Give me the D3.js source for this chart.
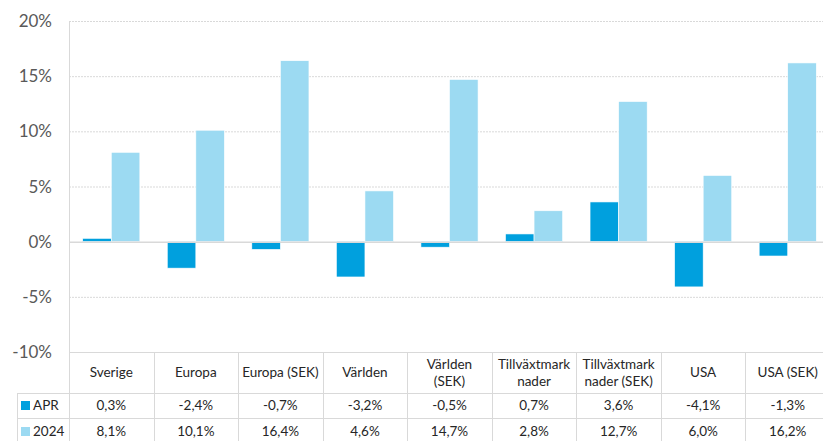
<!DOCTYPE html>
<html>
<head>
<meta charset="utf-8">
<script src="https://cdn.jsdelivr.net/npm/d3@7"></script>
<style>
  body { margin: 0; background: #fff; }
  svg { display: block; font-family: Lato, "Open Sans", sans-serif; }
</style>
</head>
<body>
<div id="chart"></div>
<script>
// categories (header lines) and series
var categories = [
  ["Sverige"], ["Europa"], ["Europa (SEK)"], ["Världen"], ["Världen", "(SEK)"],
  ["Tillväxtmark", "nader"], ["Tillväxtmark", "nader (SEK)"], ["USA"], ["USA (SEK)"]
];
var seriesNames = ["APR", "2024"];
var aprValues = [0.3, -2.4, -0.7, -3.2, -0.5, 0.7, 3.6, -4.1, -1.3];
var ytdValues = [8.1, 10.1, 16.4, 4.6, 14.7, 2.8, 12.7, 6.0, 16.2];
var yTicks = [-10, -5, 0, 5, 10, 15, 20];

var colors = ["#00a0de", "#9cdaf2"];
var W = 823, H = 441;
var plotLeft = 69, plotRight = 830, plotTop = 21, plotBottom = 352;
var fs = '13.5px';

var svg = d3.select('#chart').append('svg')
    .attr('width', W).attr('height', H);

var x = d3.scaleBand()
    .domain(d3.range(categories.length))
    .range([plotLeft, plotRight]);

var inner = d3.scaleBand()
    .domain([0, 1])
    .range([0, x.bandwidth()])
    .paddingInner(0)
    .paddingOuter(0.48);

var y = d3.scaleLinear().domain([-10, 20]).range([plotBottom, plotTop]);

// gridlines
svg.append('g').selectAll('line')
    .data(yTicks.filter(function (d) { return d !== 0 && d !== -10; }))
    .enter().append('line')
    .attr('x1', plotLeft).attr('x2', W)
    .attr('y1', function (d) { return y(d) + 0.5; })
    .attr('y2', function (d) { return y(d) + 0.5; })
    .style('stroke', '#d9d9d9')
    .style('stroke-dasharray', '2,1');

// y labels
svg.append('g').selectAll('text')
    .data(yTicks)
    .enter().append('text')
    .attr('x', 52)
    .attr('y', function (d) { return y(d); })
    .attr('dy', '0.36em')
    .attr('text-anchor', 'end')
    .style('font-size', '17px')
    .style('fill', '#595959')
    .text(function (d) { return d + '%'; });

// bars
var series = [aprValues, ytdValues];
series.forEach(function (vals, si) {
    svg.append('g').selectAll('rect')
        .data(vals)
        .enter().append('rect')
        .attr('x', function (d, i) { return x(i) + inner(si); })
        .attr('width', inner.bandwidth())
        .attr('y', function (d) { return y(Math.max(0, d)); })
        .attr('height', function (d) { return Math.abs(y(d) - y(0)); })
        .style('fill', colors[si])
        .style('stroke', '#fff')
        .style('stroke-width', 0.6);
});

// zero line
svg.append('line')
    .attr('x1', plotLeft).attr('x2', W)
    .attr('y1', y(0) + 0.5).attr('y2', y(0) + 0.5)
    .style('stroke', '#d9d9d9').style('stroke-width', 1.5);

// data table
var rowHeader = 393, rowApr = 418, tableLeft = 17;
var lineColor = '#d9d9d9';
var tbl = svg.append('g');

tbl.append('line').attr('x1', plotLeft).attr('x2', W)
    .attr('y1', plotBottom + 0.5).attr('y2', plotBottom + 0.5).style('stroke', lineColor);
[rowHeader, rowApr].forEach(function (yy) {
    tbl.append('line').attr('x1', tableLeft).attr('x2', W)
        .attr('y1', yy + 0.5).attr('y2', yy + 0.5).style('stroke', lineColor);
});
tbl.append('line').attr('x1', tableLeft + 0.5).attr('x2', tableLeft + 0.5)
    .attr('y1', rowHeader).attr('y2', H).style('stroke', lineColor);
tbl.append('line').attr('x1', plotLeft + 0.5).attr('x2', plotLeft + 0.5)
    .attr('y1', plotTop).attr('y2', H).style('stroke', lineColor);
tbl.selectAll('.vline')
    .data(d3.range(1, categories.length))
    .enter().append('line')
    .attr('class', 'vline')
    .attr('x1', function (i) { return Math.round(x(i)) + 0.5; })
    .attr('x2', function (i) { return Math.round(x(i)) + 0.5; })
    .attr('y1', plotBottom).attr('y2', H)
    .style('stroke', lineColor);

// header labels
var headers = tbl.selectAll('.hdr')
    .data(categories)
    .enter().append('text')
    .attr('class', 'hdr')
    .attr('text-anchor', 'middle')
    .style('font-size', fs)
    .style('fill', '#262626');
headers.each(function (lines, i) {
    var t = d3.select(this);
    var cy = (plotBottom + rowHeader) / 2;
    var lh = 17;
    lines.forEach(function (s, k) {
        t.append('tspan')
            .attr('x', x(i) + x.bandwidth() / 2)
            .attr('y', cy + (k - (lines.length - 1) / 2) * lh)
            .attr('dy', '0.36em')
            .text(s);
    });
});

// value rows
var rowsY = [(rowHeader + rowApr) / 2, (rowApr + H + 4) / 2];
series.forEach(function (vals, si) {
    tbl.append('g').selectAll('text')
        .data(vals)
        .enter().append('text')
        .attr('x', function (d, i) { return x(i) + x.bandwidth() / 2; })
        .attr('y', rowsY[si])
        .attr('dy', '0.36em')
        .attr('text-anchor', 'middle')
        .style('font-size', fs)
        .style('fill', '#262626')
        .text(function (d) { return d.toFixed(1).replace('.', ',') + '%'; });

    tbl.append('rect')
        .attr('x', 21).attr('y', rowsY[si] - 4.5)
        .attr('width', 9).attr('height', 9)
        .style('fill', colors[si]);
    tbl.append('text')
        .attr('x', 33).attr('y', rowsY[si])
        .attr('dy', '0.36em')
        .style('font-size', fs)
        .style('fill', '#262626')
        .text(seriesNames[si]);
});
</script>
</body>
</html>
